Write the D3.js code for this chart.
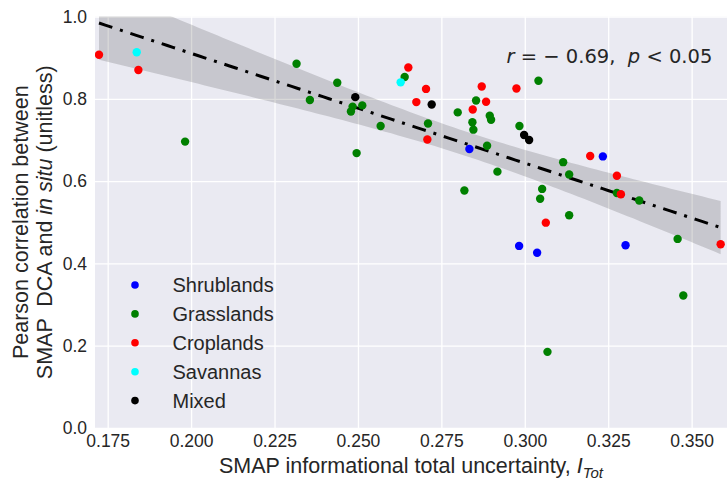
<!DOCTYPE html>
<html>
<head>
<meta charset="utf-8">
<script src="https://cdn.jsdelivr.net/npm/d3@7"></script>
<style>
  html, body { margin: 0; padding: 0; background: #ffffff; }
  svg { display: block; }
  text { white-space: pre; }
</style>
</head>
<body>
<svg id="chart" width="727" height="484"></svg>
<script>
// ---------------- data ----------------
const categories = ["Shrublands", "Grasslands", "Croplands", "Savannas", "Mixed"];
const categoryColors = ["#0000ff", "#008000", "#ff0000", "#00ffff", "#000000"];

const shrublandsX = [0.2834, 0.3234, 0.2983, 0.3037, 0.3302];
const shrublandsY = [0.678, 0.660, 0.4425, 0.426, 0.444];

const grasslandsX = [0.1982, 0.2316, 0.2356, 0.2438, 0.2484, 0.2479, 0.2513, 0.2568, 0.2496, 0.2640,
                     0.2710, 0.3041, 0.2854, 0.2799, 0.2895, 0.2899, 0.2843, 0.2846, 0.2984, 0.2887,
                     0.2819, 0.2918, 0.3115, 0.3133, 0.3276, 0.3343, 0.3052, 0.3046, 0.3133, 0.3458,
                     0.3475, 0.3068];
const grasslandsY = [0.696, 0.885, 0.797, 0.839, 0.781, 0.769, 0.784, 0.734, 0.668, 0.853,
                     0.740, 0.844, 0.796, 0.767, 0.759, 0.749, 0.743, 0.725, 0.734, 0.686,
                     0.577, 0.623, 0.646, 0.616, 0.571, 0.553, 0.581, 0.557, 0.517, 0.4595,
                     0.322, 0.185];

const croplandsX = [0.1724, 0.1842, 0.2651, 0.2704, 0.2675, 0.2708, 0.2871, 0.2975, 0.2884, 0.2844,
                    0.3196, 0.3276, 0.3288, 0.3063, 0.3587];
const croplandsY = [0.907, 0.870, 0.876, 0.824, 0.792, 0.701, 0.830, 0.825, 0.793, 0.774,
                    0.661, 0.613, 0.568, 0.499, 0.4466];

const savannasX = [0.1837, 0.2628];
const savannasY = [0.913, 0.840];

const mixedX = [0.2492, 0.2721, 0.2998, 0.3013];
const mixedY = [0.804, 0.786, 0.712, 0.700];

const xTicks = [0.175, 0.200, 0.225, 0.250, 0.275, 0.300, 0.325, 0.350];
const yTicks = [0.0, 0.2, 0.4, 0.6, 0.8, 1.0];
const statsText = { r: "-0.69", p: "0.05" };

(function () {
// ---------------- layout ----------------
const svg = d3.select("#chart");
const L = 95, R = 727, T = 16.5, B = 428;
const x = d3.scaleLinear().domain([0.1712, 0.3606]).range([L, R]);
const y = d3.scaleLinear().domain([0, 1]).range([B, T]);

const tickFont = "'Liberation Sans', Arial, sans-serif";

svg.append("rect").attr("x", L).attr("y", T)
  .attr("width", R - L).attr("height", B - T)
  .attr("fill", "#EAEAF2");

const gx = svg.append("g").attr("transform", `translate(0,${B})`)
  .call(d3.axisBottom(x).tickValues(xTicks).tickFormat(d3.format(".3f"))
    .tickSizeInner(-(B - T)).tickSizeOuter(0).tickPadding(7));
const gy = svg.append("g").attr("transform", `translate(${L},0)`)
  .call(d3.axisLeft(y).tickValues(yTicks).tickFormat(d3.format(".1f"))
    .tickSizeInner(-(R - L)).tickSizeOuter(0).tickPadding(8));
[gx, gy].forEach(g => {
  g.select(".domain").remove();
  g.selectAll(".tick line").attr("stroke", "#ffffff").attr("stroke-width", 1.3);
  g.selectAll(".tick text").attr("fill", "#262626")
    .style("font-family", tickFont).style("font-size", "17.5px");
});

// ---------------- regression ----------------
const groups = [
  [shrublandsX, shrublandsY], [grasslandsX, grasslandsY], [croplandsX, croplandsY],
  [savannasX, savannasY], [mixedX, mixedY]
];
const allX = [], allY = [];
groups.forEach(([gxv, gyv]) => { gxv.forEach((v, i) => { allX.push(v); allY.push(gyv[i]); }); });
const n = allX.length;
const mx = d3.mean(allX), my = d3.mean(allY);
let sxx = 0, sxy = 0;
for (let i = 0; i < n; i++) { sxx += (allX[i] - mx) ** 2; sxy += (allX[i] - mx) * (allY[i] - my); }
const slope = sxy / sxx, intercept = my - slope * mx;
let sse = 0;
for (let i = 0; i < n; i++) { sse += (allY[i] - (intercept + slope * allX[i])) ** 2; }
const s = Math.sqrt(sse / (n - 2));
const tval = 2.003;
const [x0, x1] = d3.extent(allX);
const fitPts = d3.range(0, 101).map(k => {
  const xv = x0 + (x1 - x0) * k / 100;
  const yh = intercept + slope * xv;
  const h = tval * s * Math.sqrt(1 / n + (xv - mx) ** 2 / sxx);
  return { x: xv, y: yh, lo: yh - h, hi: yh + h };
});

svg.append("clipPath").attr("id", "plotclip").append("rect")
  .attr("x", L).attr("y", T).attr("width", R - L).attr("height", B - T);

const plot = svg.append("g").attr("clip-path", "url(#plotclip)");
plot.append("path").datum(fitPts)
  .attr("d", d3.area().x(d => x(d.x)).y0(d => y(d.lo)).y1(d => y(d.hi)))
  .attr("fill", "#000000").attr("fill-opacity", 0.15);
plot.append("path").datum(fitPts)
  .attr("d", d3.line().x(d => x(d.x)).y(d => y(d.y)))
  .attr("fill", "none").attr("stroke", "#000000").attr("stroke-width", 3)
  .attr("stroke-dasharray", "14,8,3,8");

// ---------------- points ----------------
groups.forEach(([gxv, gyv], gi) => {
  plot.append("g").selectAll("circle").data(gxv.map((v, i) => [v, gyv[i]])).join("circle")
    .attr("cx", d => x(d[0])).attr("cy", d => y(d[1])).attr("r", 4.2)
    .attr("fill", categoryColors[gi]);
});

// ---------------- legend ----------------
const legend = svg.append("g");
categories.forEach((c, i) => {
  const ly = 285 + i * 28.9;
  legend.append("circle").attr("cx", 135).attr("cy", ly).attr("r", 3.8).attr("fill", categoryColors[i]);
  legend.append("text").attr("x", 172.5).attr("y", ly + 7).text(c)
    .attr("fill", "#262626").style("font-family", tickFont).style("font-size", "20px");
});

// ---------------- stats text ----------------
const st = svg.append("text").attr("x", 506.5).attr("y", 62.5).attr("fill", "#262626")
  .style("font-family", "'DejaVu Sans', sans-serif").style("font-size", "19.5px");
st.append("tspan").style("font-style", "italic").text("r");
st.append("tspan").text(" = \u2212 " + statsText.r.replace("-", "") + ",  ");
st.append("tspan").style("font-style", "italic").text("p");
st.append("tspan").text(" < " + statsText.p);

// ---------------- axis labels ----------------
const xl = svg.append("text").attr("x", (L + R) / 2).attr("y", 473)
  .attr("text-anchor", "middle").attr("fill", "#262626")
  .style("font-family", tickFont).style("font-size", "21.5px");
xl.append("tspan").text("SMAP informational total uncertainty, ");
xl.append("tspan").style("font-style", "italic").text("I");
xl.append("tspan").style("font-style", "italic").style("font-size", "15px").attr("dy", 5).text("Tot");

const cy = (T + B) / 2;
svg.append("text").attr("transform", `translate(28,${cy}) rotate(-90)`)
  .attr("text-anchor", "middle").attr("fill", "#262626")
  .style("font-family", tickFont).style("font-size", "21.5px")
  .text("Pearson correlation between");
const yl2 = svg.append("text").attr("transform", `translate(52,${cy}) rotate(-90)`)
  .attr("text-anchor", "middle").attr("fill", "#262626")
  .style("font-family", tickFont).style("font-size", "21.5px");
yl2.append("tspan").text("SMAP  DCA and ");
yl2.append("tspan").style("font-style", "italic").text("in situ");
yl2.append("tspan").text(" (unitless)");
})();
</script>
</body>
</html>
